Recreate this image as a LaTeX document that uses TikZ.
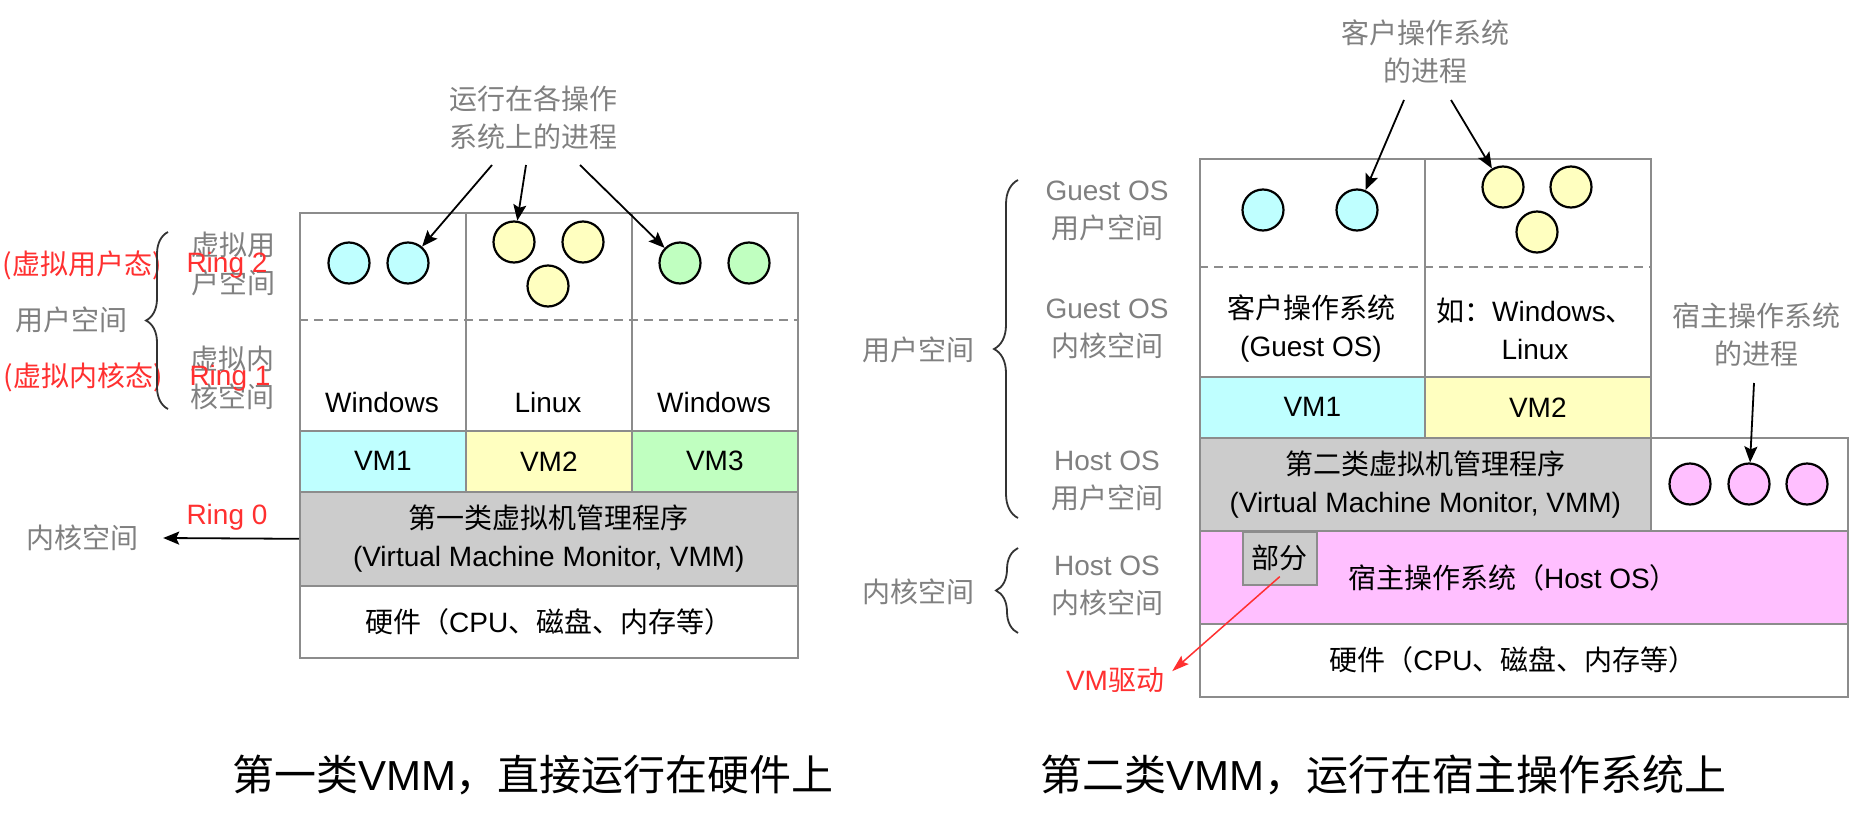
\documentclass[tikz,border=0pt]{standalone}
\usepackage{fontspec}
\setmainfont{Noto Sans CJK SC}
\newfontfamily\lat{Liberation Sans}
\usetikzlibrary{arrows.meta,decorations.pathreplacing}

\begin{document}
\begin{tikzpicture}[x=1pt,y=-1pt,
    cell/.style={draw=edge,line width=1.6pt,inner sep=0pt,anchor=north west,align=center,font=\fontsize{28}{38}\selectfont},
    txt/.style={align=center,inner sep=0pt,font=\fontsize{28}{38}\selectfont},
    side/.style={txt,text=labgray},
    redtxt/.style={txt,text=ringred},
    proc/.style={circle,draw=black,line width=2.2pt,minimum size=41pt,inner sep=0pt},
    pointer/.style={-{Stealth[length=16pt,width=13pt,inset=3pt]},line width=1.8pt},
    redpointer/.style={-{Stealth[length=17pt,width=11pt,inset=3pt]},line width=1.5pt,draw=ringred},
    divider/.style={draw=edge,line width=1.4pt,dash pattern=on 9pt off 6pt},
    curly/.style={decorate,decoration={brace,amplitude=#1},line width=1.8pt,draw=black!80},
    caption/.style={inner sep=0pt,font=\fontsize{42}{50}\selectfont}]
    %colores
    \definecolor{edge}{HTML}{8C8C8C}
    \definecolor{labgray}{HTML}{808080}
    \definecolor{ringred}{HTML}{FF3030}
    \definecolor{vmcyan}{HTML}{BFFFFF}
    \definecolor{vmyellow}{HTML}{FFFFC0}
    \definecolor{vmgreen}{HTML}{C0FFC0}
    \definecolor{vmmgray}{HTML}{CCCCCC}
    \definecolor{hostpink}{HTML}{FFBFFF}

    \path[use as bounding box,fill=white] (0,0) rectangle (1869,814);

    %%% Primer tipo: VMM sobre el hardware
    % columnas de los SO invitados
    \foreach \i/\x/\os/\vm/\c in {A/299/Windows/VM1/vmcyan,B/465/Linux/VM2/vmyellow,C/631/Windows/VM3/vmgreen}{
        \node[cell,minimum width=166pt,minimum height=218pt] (os\i) at (\x,212) {};
        \node[txt] (osname\i) at (\x+83,402) {\lat\os};
        \node[cell,fill=\c,minimum width=166pt,minimum height=61pt] (vm\i) at (\x,430) {\lat\vm};
    }
    \draw[divider] (299,320) -- (797,320);
    \node[cell,fill=vmmgray,minimum width=498pt,minimum height=94pt] (vmmL) at (299,491)
        {第一类虚拟机管理程序\\{\lat (Virtual Machine Monitor, VMM)}};
    \node[cell,minimum width=498pt,minimum height=72pt] (hwL) at (299,585) {硬件（{\lat CPU}、磁盘、内存等）};

    % procesos
    \foreach \n/\x/\y/\c in {pA1/349/263/vmcyan,pA2/408/263/vmcyan,pB1/514/242/vmyellow,pB2/583/242/vmyellow,
        pB3/548/286/vmyellow,pC1/680/263/vmgreen,pC2/749/263/vmgreen}
        \node[proc,fill=\c] (\n) at (\x,\y) {};
    \node[side] (procL) at (533,118) {运行在各操作\\系统上的进程};
    \coordinate (sA) at (492,165);
    \coordinate (sB) at (526,165);
    \coordinate (sC) at (580,165);
    \draw[pointer] (sA) -- (pA2);
    \draw[pointer] (sB) -- (pB1);
    \draw[pointer] (sC) -- (pC1);

    % etiquetas de la izquierda
    \node[side] (vuser) at (233,264) {虚拟用\\户空间};
    \node[side] (vkern) at (232,378) {虚拟内\\核空间};
    \node[redtxt] (vuserst) at (82,265) {(虚拟用户态)};
    \node[redtxt] (ring2) at (227,265) {\lat Ring 2};
    \node[redtxt] (vkernst) at (83,377) {(虚拟内核态)};
    \node[redtxt] (ring1) at (230,378) {\lat Ring 1};
    \node[side] (userL) at (72,320) {用户空间};
    \draw[curly=22pt] (168,409) -- (168,232);
    \node[redtxt] (ring0) at (227,517) {\lat Ring 0};
    \node[side] (kernL) at (83,538) {内核空间};
    \draw[pointer] (vmmL.west) -- ([xshift=24pt]kernL.east);

    \node[caption] (capL) at (533,775) {第一类{\lat VMM}，直接运行在硬件上};

    %%% Segundo tipo: VMM sobre el SO anfitrion
    \node[cell,minimum width=225pt,minimum height=218pt] (gosA) at (1199,158) {};
    \node[cell,minimum width=226pt,minimum height=218pt] (gosB) at (1424,158) {};
    \draw[divider] (1199,267) -- (1650,267);
    \node[txt] (gnameA) at (1311,329) {客户操作系统\\{\lat (Guest OS)}};
    \node[txt] (gnameB) at (1535,329) {如：{\lat Windows}、\\{\lat Linux}};
    \node[cell,fill=vmcyan,minimum width=225pt,minimum height=61pt] (gvmA) at (1199,376) {\lat VM1};
    \node[cell,fill=vmyellow,minimum width=226pt,minimum height=61pt] (gvmB) at (1424,376) {\lat VM2};
    \node[cell,fill=vmmgray,minimum width=451pt,minimum height=93pt] (vmmR) at (1199,437)
        {第二类虚拟机管理程序\\{\lat (Virtual Machine Monitor, VMM)}};
    \node[cell,minimum width=197pt,minimum height=93pt] (hostU) at (1650,437) {};
    \node[cell,fill=hostpink,minimum width=648pt,minimum height=93pt] (hostR) at (1199,530) {};
    \node[txt] (hostname) at (1513,578) {宿主操作系统（{\lat Host OS}）};
    \node[cell,fill=vmmgray,minimum width=74pt,minimum height=53pt] (part) at (1242,531) {部分};
    \node[cell,minimum width=648pt,minimum height=73pt] (hwR) at (1199,623) {};
    \node[txt] (hwname) at (1513,660) {硬件（{\lat CPU}、磁盘、内存等）};

    % procesos
    \foreach \n/\x/\y/\c in {gA1/1263/210/vmcyan,gA2/1357/210/vmcyan,gB1/1503/187/vmyellow,gB2/1571/187/vmyellow,
        gB3/1537/232/vmyellow,pH1/1690/484/hostpink,pH2/1749/484/hostpink,pH3/1807/484/hostpink}
        \node[proc,fill=\c] (\n) at (\x,\y) {};
    \node[side] (guestproc) at (1425,52) {客户操作系统\\的进程};
    \node[side] (hostproc) at (1756,335) {宿主操作系统\\的进程};
    \coordinate (sG1) at (1404,100);
    \coordinate (sG2) at (1451,100);
    \coordinate (sH) at (1754,383);
    \draw[pointer] (sG1) -- (gA2);
    \draw[pointer] (sG2) -- (gB1);
    \draw[pointer] (sH) -- (pH2);

    % etiquetas de la izquierda
    \node[side] (guestU) at (1107,211) {{\lat Guest OS}\\用户空间};
    \node[side] (guestK) at (1107,329) {{\lat Guest OS}\\内核空间};
    \node[side] (hostUL) at (1107,481) {{\lat Host OS}\\用户空间};
    \node[side] (hostKL) at (1107,586) {{\lat Host OS}\\内核空间};
    \draw[curly=24pt] (1018,518) -- (1018,180);
    \draw[curly=22pt] (1018,633) -- (1018,548);
    \node[side] (userR) at (918,350) {用户空间};
    \node[side] (kernR) at (918,592) {内核空间};

    \node[redtxt] (vmdrv) at (1115,680) {{\lat VM}驱动};
    \draw[redpointer] ([yshift=9pt]part.south) -- ([xshift=8pt,yshift=-4pt]vmdrv.north east);

    \node[caption] (capR) at (1383,775) {第二类{\lat VMM}，运行在宿主操作系统上};
\end{tikzpicture}
\end{document}
